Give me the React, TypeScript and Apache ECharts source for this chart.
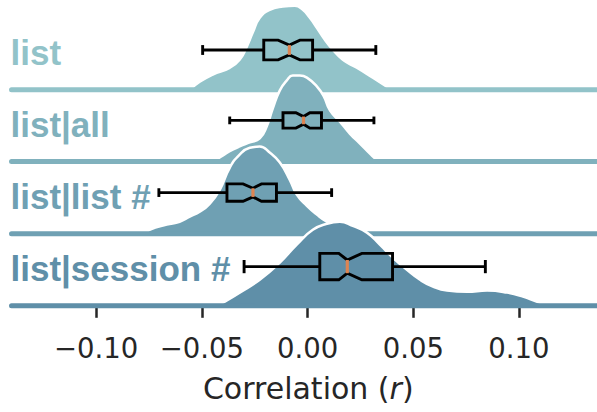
import React, { useEffect, useRef } from "react";
import * as echarts from "echarts";

const rowLabels = ["list", "list|all", "list|list #", "list|session #"];
const rowColors = ["#92c3c9", "#80b1bd", "#6fa0b3", "#5f8fa8"];

// KDE curves: correlation value (r) and density
const r1 = [-0.0557, -0.051, -0.0448, -0.0368, -0.0321, -0.0287, -0.0259, -0.0226, -0.0179, -0.0117, -0.006, -0.0022, 0.0011, 0.0044, 0.0082, 0.012, 0.0167, 0.0233, 0.0309, 0.0375, 0.0399];
const d1 = [0, 2.0, 3.8, 5.5, 7.5, 10.8, 14.3, 18.0, 20.0, 20.8, 21.0, 20.0, 18.0, 15.5, 12.5, 10.0, 7.5, 5.5, 3.0, 0.8, 0];

const r2 = [-0.0443, -0.0429, -0.0387, -0.0354, -0.0321, -0.0273, -0.0226, -0.0193, -0.0164, -0.0131, -0.0098, -0.007, -0.0036, -0.0003, 0.0044, 0.0077, 0.0106, 0.0153, 0.02, 0.0248, 0.0295, 0.0328, 0.0356];
const d2 = [0, 0.5, 2, 3, 3.8, 4.8, 5.8, 8.8, 13.3, 17.8, 20.3, 21.5, 21.5, 21, 18.8, 16.3, 12.8, 10, 7, 4.5, 2, 0.5, 0];

const r3 = [-0.077, -0.0747, -0.0666, -0.0605, -0.0557, -0.051, -0.0463, -0.0415, -0.0368, -0.0321, -0.0273, -0.0226, -0.0179, -0.0131, -0.0084, -0.0051, -0.0003, 0.0044, 0.0091, 0.0139, 0.02, 0.0271];
const d3 = [0, 1, 2.3, 3, 4.3, 5.5, 7.5, 11, 16.5, 19.8, 21.5, 21.8, 20.3, 17.8, 13.5, 9.8, 7, 4.8, 3, 1.8, 0.8, 0];

const r4 = [-0.0425, -0.0392, -0.0321, -0.0226, -0.0131, -0.0051, 0.0025, 0.0091, 0.0153, 0.0214, 0.0281, 0.0342, 0.0404, 0.047, 0.0532, 0.0593, 0.066, 0.0754, 0.0849, 0.0944, 0.1019, 0.1086, 0.1147];
const d4 = [0, 1, 3.3, 6.5, 10.8, 15.3, 19, 20.5, 21, 20, 18.3, 15.3, 12, 9, 6.5, 4.8, 3.8, 3.5, 3.8, 3.3, 2.3, 1, 0];

const curveR = [r1, r2, r3, r4];
const curveD = [d1, d2, d3, d4];

// Notched box stats: [whiskerLow, q1, notchLow, median, notchHigh, q3, whiskerHigh]
const boxStats = [
  [-0.0496, -0.0207, -0.0139, -0.0086, -0.0036, 0.0024, 0.0323],
  [-0.0368, -0.0116, -0.0055, -0.0019, 0.0011, 0.0066, 0.0314],
  [-0.0703, -0.0381, -0.0305, -0.0258, -0.0218, -0.0147, 0.0114],
  [-0.03, 0.0058, 0.0148, 0.0188, 0.0257, 0.0402, 0.0841],
];

const xTicks = [-0.1, -0.05, 0, 0.05, 0.1];

// layout / style (not data)
const X_MIN = -0.14;
const X_MAX = 0.1369;
const GRID_LEFT = 11.5;
const baselines = [89.8, 161.6, 233.8, 305.8];
const GRID_H = 88;
const Y_MAX = 22; // density units over GRID_H px
const boxCenter = [9.95, 10.3, 10.3, 9.8];
const boxHalf = [2.46, 1.93, 2.18, 3.3];
const TXT = "#262626";
const LABEL_FONT = "'Liberation Sans', Arial, Helvetica, sans-serif";
const AXIS_FONT = "'DejaVu Sans', sans-serif";

const fmt = (v: number) => {
  const s = Math.abs(v).toFixed(2);
  return v < -1e-9 ? "\u2212" + s : s;
};

export default function App() {
  const ref = useRef<HTMLDivElement>(null);
  useEffect(() => {
    if (!ref.current) return;
    const chart = echarts.init(ref.current, undefined, { renderer: "svg" });

    const grids: any[] = [];
    const xAxes: any[] = [];
    const yAxes: any[] = [];
    const series: any[] = [];
    const graphics: any[] = [];

    for (let i = 0; i < 4; i++) {
      grids.push({
        left: GRID_LEFT,
        right: 0,
        top: baselines[i] - GRID_H,
        height: GRID_H,
        containLabel: false,
      });
      const last = i === 3;
      xAxes.push({
        gridIndex: i,
        type: "value",
        min: X_MIN,
        max: X_MAX,
        show: last,
        offset: 5,
        axisLine: { show: false },
        splitLine: { show: false },
        axisTick: {
          show: last,
          length: 12,
          customValues: xTicks,
          lineStyle: { color: TXT, width: 2.5 },
        },
        axisLabel: {
          show: last,
          customValues: xTicks,
          margin: 23,
          fontSize: 27.5,
          fontFamily: AXIS_FONT,
          color: TXT,
          formatter: (v: number) => fmt(v),
        },
        name: last ? "{n|Correlation (}{i|r}{n|)}" : "",
        nameLocation: "middle",
        nameGap: 63,
        nameTextStyle: {
          padding: [0, 0, 0, 8],
          rich: {
            n: { fontSize: 30, fontFamily: AXIS_FONT, color: TXT },
            i: { fontSize: 30, fontFamily: AXIS_FONT, color: TXT, fontStyle: "italic" },
          },
        },
      });
      yAxes.push({
        gridIndex: i,
        type: "value",
        min: 0,
        max: Y_MAX,
        show: false,
      });

      const color = rowColors[i];
      series.push({
        type: "line",
        xAxisIndex: i,
        yAxisIndex: i,
        data: curveR[i].map((r, k) => [r, curveD[i][k]]),
        smooth: 0.5,
        symbol: "none",
        showSymbol: false,
        clip: false,
        lineStyle: { color: "#ffffff", width: 2.5 },
        areaStyle: { color, opacity: 1, origin: "start" },
        z: 10 * i + 1,
        silent: true,
      });
      series.push({
        type: "line",
        xAxisIndex: i,
        yAxisIndex: i,
        data: [
          [X_MIN, 0],
          [X_MAX, 0],
        ],
        symbol: "none",
        clip: false,
        lineStyle: { color, width: 5, cap: "round" },
        z: 10 * i + 2,
        silent: true,
      });
      const yc = boxCenter[i];
      const hw = boxHalf[i];
      series.push({
        type: "custom",
        xAxisIndex: i,
        yAxisIndex: i,
        clip: false,
        z: 10 * i + 3,
        silent: true,
        data: [boxStats[i]],
        dimensions: ["lo", "q1", "nlo", "med", "nhi", "q3", "hi"],
        encode: { x: [0, 1, 2, 3, 4, 5, 6] },
        renderItem: (_params: any, api: any) => {
          const v = [0, 1, 2, 3, 4, 5, 6].map((k) => api.value(k));
          const P = (x: number, y: number) => api.coord([x, y]);
          const top = yc + hw;
          const bot = yc - hw;
          const wTop = yc + hw / 2;
          const wBot = yc - hw / 2;
          const stroke = { stroke: "#000000", lineWidth: 2.9, fill: "none" };
          const line = (a: number[], b: number[], style: any) => ({
            type: "line",
            shape: { x1: a[0], y1: a[1], x2: b[0], y2: b[1] },
            style,
          });
          const poly = [
            P(v[1], top), P(v[2], top), P(v[3], wTop), P(v[4], top), P(v[5], top),
            P(v[5], bot), P(v[4], bot), P(v[3], wBot), P(v[2], bot), P(v[1], bot),
          ];
          return {
            type: "group",
            children: [
              line(P(v[0], yc), P(v[1], yc), stroke),
              line(P(v[5], yc), P(v[6], yc), stroke),
              line(P(v[0], yc + hw / 2), P(v[0], yc - hw / 2), stroke),
              line(P(v[6], yc + hw / 2), P(v[6], yc - hw / 2), stroke),
              {
                type: "polygon",
                shape: { points: poly },
                style: { stroke: "#000000", lineWidth: 2.9, fill: "none", lineJoin: "miter" },
              },
              line(P(v[3], wTop), P(v[3], wBot), { stroke: "#dd8452", lineWidth: 3.2 }),
            ],
          };
        },
      });

      graphics.push({
        type: "text",
        x: 10.5,
        y: baselines[i] - 37,
        z: 100,
        style: {
          text: rowLabels[i],
          fontSize: 35,
          fontWeight: "bold",
          fontFamily: LABEL_FONT,
          fill: color,
          verticalAlign: "middle",
          align: "left",
        },
      });
    }

    chart.setOption({
      animation: false,
      backgroundColor: "#ffffff",
      grid: grids,
      xAxis: xAxes,
      yAxis: yAxes,
      series,
      graphic: graphics,
    });
    return () => chart.dispose();
  }, []);

  return (
    <div
      ref={ref}
      style={{ position: "fixed", left: 0, top: 0, width: 597, height: 412 }}
    />
  );
}
